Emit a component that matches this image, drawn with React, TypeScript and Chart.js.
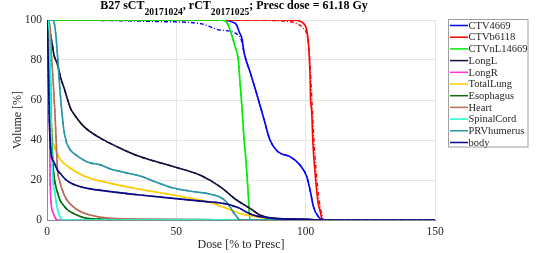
import React, { useEffect, useRef } from "react";
import { Chart, registerables } from "chart.js";

Chart.register(...registerables);

// ---------- data (dose in % of prescription, volume in %) ----------
const structureNames = [
  "CTV4669", "CTVb6118", "CTVnL14669", "LongL", "LongR", "TotalLung",
  "Esophagus", "Heart", "SpinalCord", "PRVhumerus", "body",
];
const structureColors = [
  "#0000ff", "#ff0000", "#00ee00", "#10103c", "#ff33dd", "#ffcc00",
  "#0e6a0e", "#bb6b5a", "#1affd0", "#2a95a5", "#0a0a88",
];

const ctv4669Dose = [0, 60, 68, 70.5, 72, 73.3, 74.3, 75.3, 76.3, 78.5, 80.4, 82.3, 83.6, 86.2, 89.4, 93.9, 97.8, 100.4, 101.7, 103.0, 104.9, 106.8, 150];
const ctv4669Vol = [100, 100, 99.9, 99.5, 98.8, 97.5, 94, 91, 83, 74, 66, 57.5, 51.7, 40, 34, 31.7, 27.5, 21.7, 15, 6.7, 1.7, 0, 0];
const ctv4669rDose = [0, 20, 43.7, 59, 66.9, 74.6, 76.3, 78.5, 80.4, 82.3, 83.6, 86.2, 89.4, 93.9, 97.8, 100.4, 101.7, 103.0, 104.9, 106.8, 150];
const ctv4669rVol = [100, 99.8, 99.2, 98.3, 95, 91.7, 83, 74, 66, 57.5, 51.7, 40, 34, 31.7, 27.5, 21.7, 15, 6.7, 1.7, 0, 0];

const ctvb6118Dose = [0, 90, 95, 98, 99.7, 100.4, 101.1, 101.7, 101.9, 102.3, 102.8, 103.6, 104.8, 105.5, 106.2, 106.8, 150];
const ctvb6118Vol = [100, 100, 99.9, 99.3, 97.5, 95, 88, 71.7, 60, 55, 38.5, 24, 8.5, 5, 1, 0, 0];
const ctvb6118rDose = [0, 85, 92, 96, 99, 100.6, 101.5, 102.1, 102.6, 103.2, 104, 105.2, 106, 106.6, 107.2, 150];
const ctvb6118rVol = [100, 99.8, 99.4, 98.5, 96, 92, 82, 68, 55, 40, 25, 10, 4, 1, 0, 0];

const ctvnl14669Dose = [0, 66, 68.8, 70.2, 71.4, 72.7, 73.9, 74.6, 75.3, 76.2, 76.9, 77.7, 78.5, 150];
const ctvnl14669Vol = [100, 100, 99.7, 97, 92.5, 86.7, 80.8, 69, 57.5, 40, 30, 15, 0, 0];

const longLDose = [0, 0.4, 1.2, 2.0, 2.7, 4.0, 5.3, 6.6, 9.2, 10.4, 14.3, 20.8, 28.5, 35.9, 48.8, 59.1, 66.9, 73.3, 78.5, 82.3, 87.4, 100, 107, 150];
const longLVol = [100, 99, 94, 88, 82.5, 78, 71, 66, 55.5, 53, 46.7, 40.8, 35.8, 31.7, 26.7, 22.5, 16.7, 10, 5.8, 2.5, 0.8, 0.3, 0, 0];

const longRDose = [0, 0.4, 0.7, 0.9, 1.1, 1.2, 1.4, 1.8, 2.4, 3.3, 4.2, 150];
const longRVol = [100, 97, 85, 60, 35, 22, 12, 6, 3.5, 0.8, 0, 0];

const totalLungDose = [0, 0.4, 0.8, 1.2, 1.6, 2.0, 2.7, 4.0, 5.3, 7.8, 14.3, 24.6, 37.5, 48.8, 61.7, 69.5, 74.6, 81, 87.4, 95, 150];
const totalLungVol = [100, 97, 85, 65, 50, 41, 37.5, 33, 30, 27, 22, 18.3, 15, 12.5, 9.2, 5.8, 3.3, 1.7, 0.3, 0, 0];

const esophagusDose = [0, 0.5, 1.0, 1.4, 1.8, 2.2, 2.7, 4.0, 5.0, 6.6, 8.0, 10.4, 12.8, 15.6, 22, 40, 60, 72, 150];
const esophagusVol = [100, 97, 88, 65, 42, 30, 22, 14, 10, 7, 5, 3.2, 1.8, 0.8, 0.4, 0.2, 0.2, 0, 0];

const heartDose = [0, 0.8, 1.2, 1.7, 2.4, 3.1, 3.6, 4.0, 5.0, 6.4, 8.0, 10.1, 12.5, 16.6, 24.5, 40, 70, 150];
const heartVol = [100, 99, 96, 82.5, 69, 52.5, 38, 26, 19, 13.3, 9.5, 6.7, 4.5, 2.5, 0.8, 0.3, 0, 0];

const spinalCordDose = [0, 0.6, 1.0, 1.4, 1.8, 2.3, 3.0, 3.8, 4.6, 5.3, 6.0, 150];
const spinalCordVol = [100, 98, 90, 65, 35, 20, 14, 7, 3, 1, 0, 0];

const prvHumerusDose = [0, 2.4, 3.0, 3.6, 4.3, 5.0, 5.7, 6.4, 7.5, 9.0, 10.4, 15.6, 20.8, 24.6, 31, 36, 42, 48.8, 55, 61.7, 66.9, 69, 70.7, 72, 73.3, 74.6, 150];
const prvHumerusVol = [100, 100, 97, 90, 78, 65, 55, 46, 39, 35, 33.3, 29, 27.5, 25.5, 23.5, 22, 19, 16, 14.5, 13.3, 11.5, 9.5, 6.7, 4, 1.7, 0, 0];

const bodyDose = [0, 0.3, 0.6, 0.9, 1.2, 1.6, 2.7, 4, 5.3, 7, 9.2, 12, 15.6, 24.6, 36, 48.8, 61.7, 66, 69.5, 72, 74.6, 77, 79.6, 83, 87.4, 100, 107, 150];
const bodyVol = [100, 90, 70, 50, 40, 33, 29, 25, 23, 20.5, 18.5, 17, 15.8, 14.2, 12.5, 10.8, 9.2, 8.7, 8.0, 7, 5.8, 4, 2.5, 1.5, 0.8, 0.3, 0, 0];

// planning CT (solid) and repeat CT (dash-dot) curves, per structure
const sctDose = [ctv4669Dose, ctvb6118Dose, ctvnl14669Dose, longLDose, longRDose, totalLungDose, esophagusDose, heartDose, spinalCordDose, prvHumerusDose, bodyDose];
const sctVol = [ctv4669Vol, ctvb6118Vol, ctvnl14669Vol, longLVol, longRVol, totalLungVol, esophagusVol, heartVol, spinalCordVol, prvHumerusVol, bodyVol];
const rctDose = [ctv4669rDose, ctvb6118rDose, ctvnl14669Dose, longLDose, longRDose, totalLungDose, esophagusDose, heartDose, spinalCordDose, prvHumerusDose, bodyDose];
const rctVol = [ctv4669rVol, ctvb6118rVol, ctvnl14669Vol, longLVol, longRVol, totalLungVol, esophagusVol, heartVol, spinalCordVol, prvHumerusVol, bodyVol];

const xTicks = [0, 50, 100, 150];
const yTicks = [0, 20, 40, 60, 80, 100];
const titleParts = [
  { text: "B27 sCT", sub: false },
  { text: "20171024", sub: true },
  { text: ", rCT", sub: false },
  { text: "20171025", sub: true },
  { text: "; Presc dose = 61.18 Gy", sub: false },
];
const xTitle = "Dose [% to Presc]";
const yTitle = "Volume [%]";

const SERIF = "'Liberation Serif', 'Times New Roman', serif";
const TEXT = "#262626";

const titlePlugin = {
  id: "subTitle",
  afterDraw(chart: any) {
    const ctx = chart.ctx;
    ctx.save();
    const mainFont = `bold 12px ${SERIF}`;
    const subFont = `bold 9.6px ${SERIF}`;
    let total = 0;
    for (const p of titleParts) {
      ctx.font = p.sub ? subFont : mainFont;
      total += ctx.measureText(p.text).width;
    }
    let x = 234 - total / 2;
    ctx.fillStyle = "#000";
    ctx.textBaseline = "alphabetic";
    ctx.textAlign = "left";
    for (const p of titleParts) {
      ctx.font = p.sub ? subFont : mainFont;
      ctx.fillText(p.text, x, p.sub ? 14.5 : 9);
      x += ctx.measureText(p.text).width;
    }
    ctx.restore();
  },
};

const legendPlugin = {
  id: "boxLegend",
  afterDraw(chart: any) {
    const ctx = chart.ctx;
    ctx.save();
    ctx.fillStyle = "#fff";
    ctx.fillRect(448.5, 19.5, 79.5, 127.5);
    ctx.strokeStyle = "#a0a0a0";
    ctx.lineWidth = 1;
    ctx.strokeRect(448.5, 19.5, 79.5, 127.5);
    ctx.font = `10.5px ${SERIF}`;
    ctx.textBaseline = "middle";
    ctx.textAlign = "left";
    structureNames.forEach((name, i) => {
      const y = 25.5 + i * 11.7;
      ctx.strokeStyle = structureColors[i];
      ctx.lineWidth = 1.5;
      ctx.beginPath();
      ctx.moveTo(450, y);
      ctx.lineTo(468, y);
      ctx.stroke();
      ctx.fillStyle = TEXT;
      ctx.fillText(name, 468.5, y + 0.5);
    });
    ctx.restore();
  },
};

export default function App() {
  const ref = useRef<HTMLCanvasElement | null>(null);
  useEffect(() => {
    document.body.style.margin = "0";
    if (!ref.current) return;
    const n = structureNames.length;
    const datasets: any[] = [];
    for (let i = 0; i < n; i++) {
      datasets.push({
        label: structureNames[i],
        data: sctDose[i].map((d, k) => ({ x: d, y: sctVol[i][k] })),
        borderColor: structureColors[i],
        borderWidth: 1.6,
        pointRadius: 0,
        cubicInterpolationMode: "monotone",
        fill: false,
        order: 3 * n - 2 * i,
      });
      datasets.push({
        label: structureNames[i] + " (rCT)",
        data: rctDose[i].map((d, k) => ({ x: d, y: rctVol[i][k] })),
        borderColor: structureColors[i],
        borderWidth: 1.4,
        borderDash: [4, 2, 1, 2],
        pointRadius: 0,
        cubicInterpolationMode: "monotone",
        fill: false,
        order: 3 * n - 2 * i - 1,
      });
    }
    const chart = new Chart(ref.current, {
      type: "line",
      data: { datasets },
      options: {
        animation: false,
        responsive: false,
        devicePixelRatio: 1,
        layout: { padding: { top: 20, right: 103, left: 0, bottom: 0 } },
        plugins: { legend: { display: false }, tooltip: { enabled: false }, title: { display: false } },
        scales: {
          x: {
            type: "linear",
            min: xTicks[0],
            max: xTicks[xTicks.length - 1],
            afterBuildTicks: (s: any) => { s.ticks = xTicks.map((v) => ({ value: v })); },
            afterFit: (s: any) => { s.height = 33; },
            grid: { color: "#e6e6e6", drawTicks: false },
            border: { color: "#8c8c8c" },
            ticks: { color: TEXT, padding: 5, font: { family: SERIF, size: 11.5 }, maxRotation: 0 },
            title: { display: true, text: xTitle, color: TEXT, font: { family: SERIF, size: 12 }, padding: { top: 0, bottom: 1 } },
          },
          y: {
            type: "linear",
            min: yTicks[0],
            max: yTicks[yTicks.length - 1],
            afterBuildTicks: (s: any) => { s.ticks = yTicks.map((v) => ({ value: v })); },
            afterFit: (s: any) => { s.width = 47; },
            grid: { color: "#e6e6e6", drawTicks: false },
            border: { color: "#8c8c8c" },
            ticks: { color: TEXT, padding: 5, font: { family: SERIF, size: 11.5 } },
            title: { display: true, text: yTitle, color: TEXT, font: { family: SERIF, size: 12 }, padding: { top: 11, bottom: 0 } },
          },
        },
      },
      plugins: [titlePlugin, legendPlugin],
    } as any);
    return () => chart.destroy();
  }, []);
  return (
    <div style={{ width: 538, height: 253 }}>
      <canvas ref={ref} width={538} height={253} />
    </div>
  );
}
